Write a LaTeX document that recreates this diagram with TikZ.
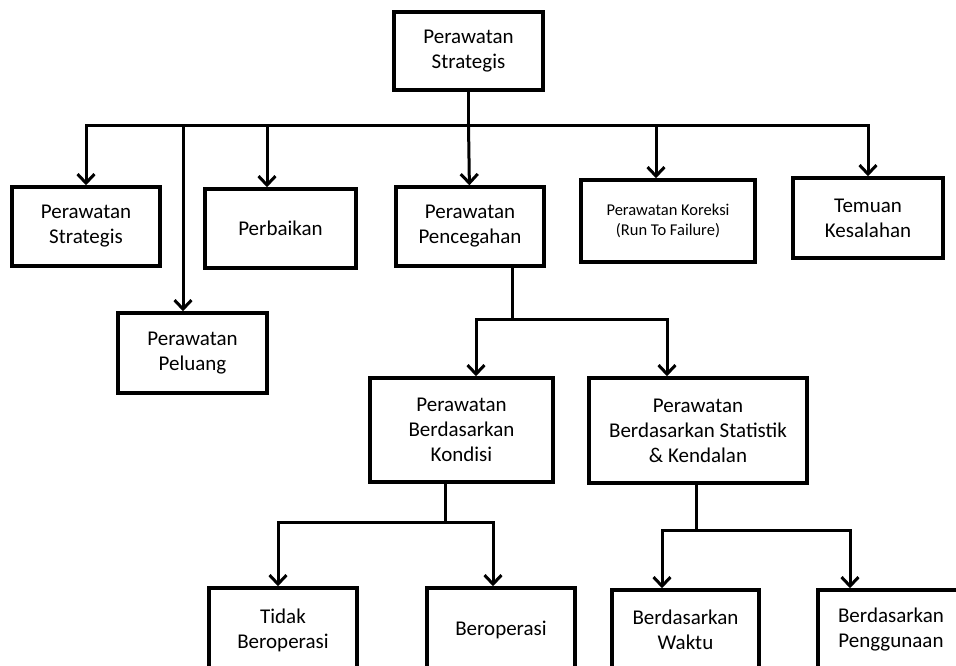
\documentclass[tikz,border=0pt]{standalone}
\usepackage{fontspec}
\setmainfont{Carlito}
\usetikzlibrary{arrows.meta}

\begin{document}
\begin{tikzpicture}[x=1pt, y=-1pt,
    kotak/.style={draw, line width=3.5pt, align=center, inner sep=0pt,
      font=\fontsize{21}{25}\selectfont},
    garis/.style={line width=3pt, line cap=rect, line join=miter},
    panah/.style={garis, -{Straight Barb[length=9pt,width=17pt]}},
    duapanah/.style={garis, {Straight Barb[length=9pt,width=17pt]}-{Straight Barb[length=9pt,width=17pt]}}]

    \useasboundingbox (0,0) rectangle (956,665);
    \clip (0,0) rectangle (956,665);

    \node[kotak, minimum width=149, minimum height=78] (a) at (468.5, 51) {Perawatan\\Strategis};
    \node[kotak, minimum width=148, minimum height=79] (b) at (86, 226.5) {Perawatan\\Strategis};
    \node[kotak, minimum width=151, minimum height=79] (c) at (280.5, 228.5) {Perbaikan};
    \node[kotak, minimum width=148, minimum height=79] (d) at (470, 226.5) {Perawatan\\Pencegahan};
    \node[kotak, minimum width=174, minimum height=82, font=\fontsize{16.5}{20}\selectfont] (e) at (668, 221) {Perawatan Koreksi\\(Run To Failure)};
    \node[kotak, minimum width=150, minimum height=80] (f) at (868, 218) {Temuan\\Kesalahan};
    \node[kotak, minimum width=149, minimum height=80] (g) at (192.5, 353) {Perawatan\\Peluang};
    \node[kotak, minimum width=183, minimum height=104] (h) at (461.5, 430) {Perawatan\\Berdasarkan\\Kondisi};
    \node[kotak, minimum width=218, minimum height=105] (i) at (698, 430.5) {Perawatan\\Berdasarkan Statistik\\\& Kendalan};
    \node[kotak, minimum width=148, minimum height=84] (j) at (283, 630) {Tidak\\Beroperasi};
    \node[kotak, minimum width=148, minimum height=84] (k) at (501, 630) {Beroperasi};
    \node[kotak, minimum width=147, minimum height=80] (l) at (685.5, 630) {Berdasarkan\\Waktu};
    \node[kotak, minimum width=146, minimum height=80] (m) at (891, 630) {Berdasarkan\\Penggunaan};

    % tingkat 1
    \coordinate (t0) at (86,125);
    \coordinate (t1) at (868,125);
    \coordinate (t2) at (183,125);
    \coordinate (t3) at (267,125);
    \coordinate (t4) at (468.5,125);
    \coordinate (t5) at (656,125);
    \draw[garis] (a) -- (t4);
    \draw[duapanah] (b) -- (t0) -- (t1) -- (f);
    \draw[panah] (t2) -- (t2 |- g.north);
    \draw[panah] (t3) -- (t3 |- c.north);
    \draw[panah] (t4) -- (d);
    \draw[panah] (t5) -- (t5 |- e.north);

    % tingkat 2
    \coordinate (p0) at (512,319);
    \coordinate (p1) at (476,319);
    \coordinate (p2) at (667,319);
    \draw[garis] (p0 |- d.south) -- (p0);
    \draw[duapanah] (p1 |- h.north) -- (p1) -- (p2) -- (p2 |- i.north);

    % tingkat 3
    \coordinate (q0) at (445,522);
    \coordinate (q1) at (278,522);
    \coordinate (q2) at (493,522);
    \draw[garis] (q0 |- h.south) -- (q0);
    \draw[duapanah] (q1 |- j.north) -- (q1) -- (q2) -- (q2 |- k.north);

    \coordinate (r0) at (696,530);
    \coordinate (r1) at (662,530);
    \coordinate (r2) at (850,530);
    \draw[garis] (r0 |- i.south) -- (r0);
    \draw[duapanah] (r1 |- l.north) -- (r1) -- (r2) -- (r2 |- m.north);

\end{tikzpicture}
\end{document}
